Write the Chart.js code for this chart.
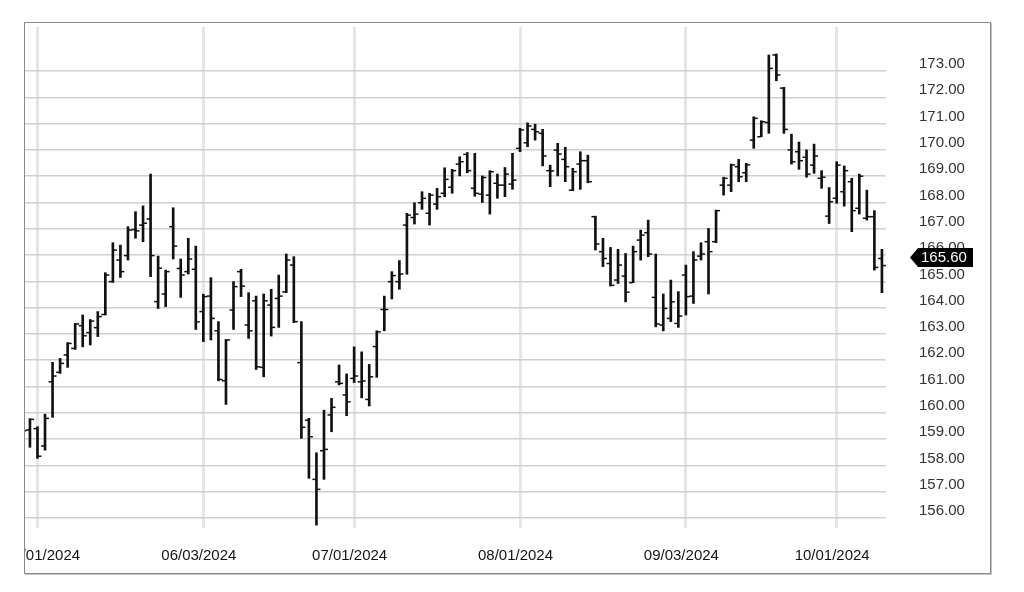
<!DOCTYPE html>
<html>
<head>
<meta charset="utf-8">
<script src="https://cdn.jsdelivr.net/npm/chart.js@4.4.1/dist/chart.umd.min.js"></script>
<style>
  html, body { margin: 0; padding: 0; background: #fff; }
  #frame {
    position: absolute; left: 24px; top: 22px; width: 967px; height: 552px;
    box-sizing: border-box; border: 1px solid #8a8a8a; box-shadow: 1px 1px 0 #c4c4c4;
    overflow: hidden; background: #fff;
  }
  #c { display: block; }
</style>
</head>
<body>
<div id="frame"><canvas id="c" width="965" height="550"></canvas></div>
<script>
// ---- data ----
const dates = [
  '04/29/2024','04/30/2024',
  '05/01/2024','05/02/2024','05/03/2024','05/06/2024','05/07/2024','05/08/2024','05/09/2024','05/10/2024',
  '05/13/2024','05/14/2024','05/15/2024','05/16/2024','05/17/2024','05/20/2024','05/21/2024','05/22/2024',
  '05/23/2024','05/24/2024','05/28/2024','05/29/2024','05/30/2024','05/31/2024',
  '06/03/2024','06/04/2024','06/05/2024','06/06/2024','06/07/2024','06/10/2024','06/11/2024','06/12/2024',
  '06/13/2024','06/14/2024','06/17/2024','06/18/2024','06/19/2024','06/20/2024','06/21/2024','06/24/2024',
  '06/25/2024','06/26/2024','06/27/2024','06/28/2024',
  '07/01/2024','07/02/2024','07/03/2024','07/05/2024','07/08/2024','07/09/2024','07/10/2024','07/11/2024',
  '07/12/2024','07/15/2024','07/16/2024','07/17/2024','07/18/2024','07/19/2024','07/22/2024','07/23/2024',
  '07/24/2024','07/25/2024','07/26/2024','07/29/2024','07/30/2024','07/31/2024',
  '08/01/2024','08/02/2024','08/05/2024','08/06/2024','08/07/2024','08/08/2024','08/09/2024','08/12/2024',
  '08/13/2024','08/14/2024','08/15/2024','08/16/2024','08/19/2024','08/20/2024','08/21/2024','08/22/2024',
  '08/23/2024','08/26/2024','08/27/2024','08/28/2024','08/29/2024','08/30/2024',
  '09/03/2024','09/04/2024','09/05/2024','09/06/2024','09/09/2024','09/10/2024','09/11/2024','09/12/2024',
  '09/13/2024','09/16/2024','09/17/2024','09/18/2024','09/19/2024','09/20/2024','09/23/2024','09/24/2024',
  '09/25/2024','09/26/2024','09/27/2024','09/30/2024',
  '10/01/2024','10/02/2024','10/03/2024','10/04/2024','10/07/2024','10/08/2024','10/09/2024'
];
const open = [
  159.30,159.35,159.40,158.74,161.18,161.54,162.20,162.45,163.31,163.05,163.24,163.74,164.99,165.81,165.98,
  166.97,167.14,167.37,164.23,164.52,167.08,165.49,165.37,165.46,163.85,164.44,163.12,161.22,163.91,165.37,
  163.34,164.26,161.73,164.10,164.35,164.60,165.62,161.91,159.72,157.47,158.56,159.92,161.18,160.68,161.31,
  161.18,160.51,162.52,163.93,164.99,164.99,167.14,167.43,167.99,167.59,167.94,168.35,168.58,169.46,169.83,
  168.54,168.32,168.28,168.73,168.66,168.70,170.06,170.27,170.78,170.63,169.21,169.99,169.64,168.47,169.46,
  169.59,167.46,166.13,165.68,165.05,165.20,164.95,166.57,166.85,164.39,163.34,163.59,163.40,165.24,164.44,
  165.96,166.51,166.51,168.66,168.66,169.36,169.13,170.37,170.50,171.04,173.61,172.35,170.00,169.93,169.72,
  169.42,168.92,167.48,168.16,168.41,168.79,167.78,167.40,167.46,165.87
];
const high = [
  159.60,159.78,159.47,159.95,161.92,162.07,162.67,163.40,163.72,163.55,163.85,165.33,166.47,166.38,167.08,
  167.65,167.87,169.08,165.96,165.43,167.80,165.85,166.64,166.34,164.51,165.14,163.47,162.79,164.99,165.46,
  164.57,164.44,164.52,164.70,165.24,166.04,165.94,163.47,159.79,158.48,160.10,160.55,161.82,161.48,162.51,
  162.32,161.84,163.12,164.44,165.37,165.79,167.59,167.99,168.41,168.35,168.54,169.32,169.26,169.74,169.90,
  169.87,169.01,169.21,169.08,169.33,169.87,170.82,171.03,170.98,170.78,169.42,170.25,170.10,169.30,169.93,
  169.80,167.48,166.64,166.29,166.22,166.06,166.34,166.95,167.33,166.04,164.52,165.05,164.61,165.62,166.13,
  166.47,167.01,167.71,168.96,169.46,169.64,169.49,171.26,171.11,173.61,173.65,172.38,170.60,170.30,170.00,
  170.22,169.21,168.57,169.55,169.39,168.92,169.08,168.47,167.69,166.22
];
const low = [
  158.90,158.69,158.27,158.58,159.83,161.50,161.73,162.41,162.51,162.58,162.90,163.72,164.96,165.15,165.81,
  166.64,166.51,165.18,163.97,164.04,165.85,164.39,165.28,163.17,162.71,162.77,161.22,160.32,163.17,164.42,
  162.83,161.65,161.37,162.92,163.25,164.57,163.43,159.03,157.51,155.73,157.47,159.28,161.06,159.89,161.15,
  160.57,160.26,161.35,163.12,164.33,164.70,165.27,167.18,167.74,167.14,167.74,168.22,168.35,169.01,169.13,
  168.24,168.00,167.56,168.16,168.22,168.50,169.93,170.12,170.37,169.39,168.60,169.01,168.79,168.45,168.50,
  168.75,166.19,165.56,164.82,164.92,164.22,164.95,165.81,165.94,163.27,163.12,163.47,163.25,163.72,164.16,
  165.81,164.52,166.47,168.28,168.41,168.79,168.79,170.06,170.50,170.63,172.63,170.63,169.46,169.26,168.96,
  169.11,168.54,167.20,167.97,167.86,166.89,167.56,167.33,165.43,164.57
];
const close = [
  159.32,159.75,158.35,159.79,161.40,161.88,162.64,163.38,162.93,163.49,163.66,165.24,166.19,165.37,166.95,
  166.92,167.21,165.98,165.50,165.37,166.34,165.24,165.85,163.46,164.42,163.59,161.27,162.77,164.80,164.82,
  163.12,161.75,164.26,163.25,164.44,165.81,163.47,159.45,159.09,157.09,158.61,160.21,161.12,160.42,161.40,
  161.21,161.37,163.08,163.93,165.22,165.28,167.52,167.56,168.16,168.28,168.22,168.88,169.21,169.55,169.21,
  168.35,168.95,169.17,168.66,169.08,168.85,170.76,170.91,170.69,169.77,169.20,169.84,169.36,169.17,169.59,
  168.79,166.42,165.87,164.85,165.62,164.59,166.13,166.76,166.04,163.38,163.97,164.22,163.68,164.42,165.81,
  166.04,166.13,167.69,168.92,169.43,168.98,169.43,171.20,171.07,173.10,172.85,170.78,169.55,169.59,169.08,
  169.77,168.96,168.03,169.42,169.21,167.69,169.00,167.46,165.53,165.60
];
const tickLabels = ['05/01/2024','06/03/2024','07/01/2024','08/01/2024','09/03/2024','10/01/2024'];
const yTicks = [156,157,158,159,160,161,162,163,164,165,166,167,168,169,170,171,172,173];

// ---- chart ----
const tickIdx = tickLabels.map(l => dates.indexOf(l));
const FONT = "'Liberation Sans', Arial, sans-serif";
Chart.defaults.font.family = FONT;
Chart.defaults.font.size = 15;

const noPad = s => { s.paddingLeft = 0; s.paddingRight = 0; s.paddingTop = 0; s.paddingBottom = 0; };

const ohlcTicks = {
  id: 'ohlcTicks',
  afterDatasetsDraw(chart) {
    const { ctx, chartArea: a, scales: { x, y } } = chart;
    ctx.save();
    ctx.beginPath();
    ctx.rect(a.left, a.top, a.right - a.left, a.bottom - a.top);
    ctx.clip();
    ctx.fillStyle = '#111';
    for (let i = 0; i < dates.length; i++) {
      const px = x.getPixelForValue(i);
      ctx.fillRect(px - 4, y.getPixelForValue(open[i]) - 0.75, 3.5, 1.5);
      ctx.fillRect(px + 0.5, y.getPixelForValue(close[i]) - 0.75, 3.5, 1.5);
    }
    ctx.restore();
  }
};

const priceTag = {
  id: 'priceTag',
  afterDraw(chart) {
    const { ctx, chartArea: a, scales: { y } } = chart;
    const last = close[close.length - 1];
    const yc = y.getPixelForValue(last) - 8;
    const bl = a.right + 32, tip = a.right + 24, w = 55, h = 19;
    ctx.save();
    ctx.fillStyle = '#000';
    ctx.beginPath();
    ctx.moveTo(tip, yc);
    ctx.lineTo(bl, yc - h / 2);
    ctx.lineTo(bl + w, yc - h / 2);
    ctx.lineTo(bl + w, yc + h / 2);
    ctx.lineTo(bl, yc + h / 2);
    ctx.closePath();
    ctx.fill();
    ctx.fillStyle = '#fff';
    ctx.font = '15px ' + FONT;
    ctx.textAlign = 'left';
    ctx.textBaseline = 'middle';
    ctx.fillText(last.toFixed(2), bl + 3, yc + 0.5);
    ctx.restore();
  }
};

new Chart(document.getElementById('c'), {
  type: 'bar',
  data: {
    datasets: [{
      data: dates.map((d, i) => ({ x: i, y: [low[i], high[i]] })),
      backgroundColor: '#111',
      borderWidth: 0,
      barThickness: 2,
      xAxisID: 'x',
      yAxisID: 'y'
    }]
  },
  options: {
    responsive: false,
    animation: false,
    events: [],
    layout: { padding: { top: 4, left: 0, right: 0, bottom: 0 } },
    plugins: { legend: { display: false }, tooltip: { enabled: false } },
    scales: {
      x: {
        type: 'linear', position: 'bottom', offset: false,
        min: 0.345, max: 114.54,
        grid: { display: false, drawTicks: false, offset: false },
        border: { display: false },
        afterBuildTicks: s => { s.ticks = tickIdx.map((v, k) => ({ value: v + (k === 0 ? 0.67 : -0.6) })); },
        ticks: {
          autoSkip: false, maxRotation: 0, padding: 19, color: '#151515',
          callback: (v, k) => tickLabels[k]
        },
        afterFit: s => { s.height = 45; noPad(s); }
      },
      xg: {
        type: 'linear', position: 'bottom', offset: false,
        min: 0.345, max: 114.54,
        grid: { color: '#e6e6e6', lineWidth: 3, drawTicks: false, offset: false },
        border: { display: false },
        afterBuildTicks: s => { s.ticks = tickIdx.map(v => ({ value: v })); },
        ticks: { display: false },
        afterFit: s => { s.height = 0; noPad(s); }
      },
      y: {
        type: 'linear', position: 'right',
        min: 155.62, max: 174.674,
        grid: { color: '#d0d0d0', lineWidth: 1.5, drawTicks: false },
        border: { display: false },
        afterBuildTicks: s => { s.ticks = yTicks.map(v => ({ value: v })); },
        ticks: {
          padding: 33, labelOffset: -7, color: '#333',
          callback: v => Number(v).toFixed(2)
        },
        afterFit: s => { s.width = 104; noPad(s); }
      }
    }
  },
  plugins: [ohlcTicks, priceTag]
});
</script>
</body>
</html>
